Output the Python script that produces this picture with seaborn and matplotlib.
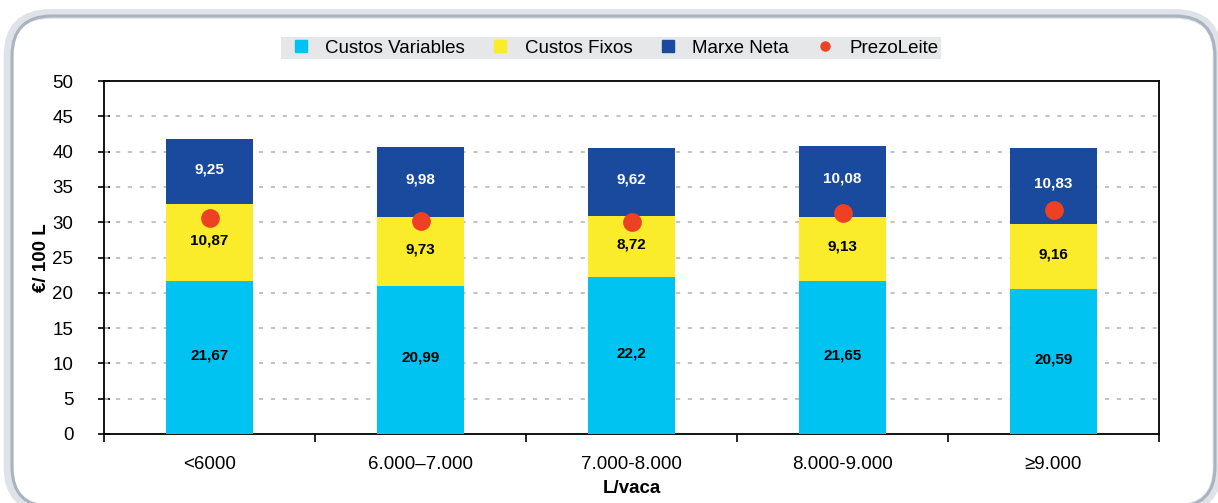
import numpy as np
import pandas as pd
import matplotlib
matplotlib.use("Agg")
import matplotlib.pyplot as plt
import seaborn as sns
from matplotlib.lines import Line2D
from matplotlib.patches import FancyBboxPatch

categories = ["<6000", "6.000\u20137.000", "7.000-8.000", "8.000-9.000", "\u22659.000"]
custos_variables = [21.67, 20.99, 22.2, 21.65, 20.59]
custos_fixos = [10.87, 9.73, 8.72, 9.13, 9.16]
marxe_neta = [9.25, 9.98, 9.62, 10.08, 10.83]
prezo_leite = [30.6, 30.2, 30.0, 31.3, 31.7]

series_names = ["Custos Variables", "Custos Fixos", "Marxe Neta", "PrezoLeite"]
col_var = "#00C3F2"
col_fix = "#FAEC2A"
col_mar = "#1A4A9D"
col_pre = "#EE4124"

sns.set_theme(style="white")
plt.rcParams["font.family"] = ["Liberation Sans", "DejaVu Sans"]
plt.rcParams["text.color"] = "black"
plt.rcParams["axes.labelcolor"] = "black"
plt.rcParams["xtick.color"] = "black"
plt.rcParams["ytick.color"] = "black"

df = pd.DataFrame({
    "cat": categories,
    "var": custos_variables,
    "fix": custos_fixos,
    "mar": marxe_neta,
    "pre": prezo_leite,
})
df["s2"] = df["var"] + df["fix"]
df["s3"] = df["s2"] + df["mar"]

fig = plt.figure(figsize=(12.18, 5.03), dpi=100)
fig.patch.set_facecolor("white")

# rounded frame
frame_sh = FancyBboxPatch((0.085, -0.06), 12.09, 4.95,
                          boxstyle="round,pad=0,rounding_size=0.42",
                          transform=fig.dpi_scale_trans, facecolor="none",
                          edgecolor="#dfe3e8", linewidth=7, zorder=-10)
frame = FancyBboxPatch((0.12, -0.04), 12.03, 4.91,
                       boxstyle="round,pad=0,rounding_size=0.40",
                       transform=fig.dpi_scale_trans, facecolor="none",
                       edgecolor="#a9b4c0", linewidth=2.2, zorder=-9)
fig.patches.extend([frame_sh, frame])

ax = fig.add_axes([104/1218, 1-434/503, (1159-104)/1218, (434-81)/503])
ax.set_facecolor("none")
ax.set_zorder(2)

bw = 0.41
sns.barplot(data=df, x="cat", y="s3", color=col_mar, width=bw, saturation=1,
            linewidth=0, ax=ax, zorder=3)
sns.barplot(data=df, x="cat", y="s2", color=col_fix, width=bw, saturation=1,
            linewidth=0, ax=ax, zorder=3)
sns.barplot(data=df, x="cat", y="var", color=col_var, width=bw, saturation=1,
            linewidth=0, ax=ax, zorder=3)
sns.stripplot(data=df, x="cat", y="pre", color=col_pre, jitter=False, size=13.5,
              linewidth=0, ax=ax, zorder=5)

# value labels
off = 0.3
for i in range(len(categories)):
    ax.text(i, custos_variables[i] / 2 + off, f"{custos_variables[i]:g}".replace(".", ","),
            ha="center", va="center", fontsize=11, fontweight="bold", color="black", zorder=6)
    ax.text(i, df["var"][i] + custos_fixos[i] / 2 + off, f"{custos_fixos[i]:g}".replace(".", ","),
            ha="center", va="center", fontsize=11, fontweight="bold", color="black", zorder=6)
    ax.text(i, df["s2"][i] + marxe_neta[i] / 2 + off, f"{marxe_neta[i]:g}".replace(".", ","),
            ha="center", va="center", fontsize=11, fontweight="bold", color="white", zorder=6)

ax.set_ylim(0, 50)
ax.set_xlim(-0.5, len(categories) - 0.5)
ax.set_yticks(np.arange(0, 51, 5))
ax.set_yticklabels([str(v) for v in range(0, 51, 5)], fontsize=13.5)
for v in range(5, 50, 5):
    ax.axhline(v, color="#bdbdbd", linewidth=1.3, linestyle=(0, (2.3, 4.3)), zorder=1)

ax.set_xticks(np.arange(-0.5, len(categories), 1.0))
ax.set_xticklabels([])
ax.set_xticks(np.arange(len(categories)), minor=True)
ax.set_xticklabels(categories, minor=True, fontsize=13.5)
ax.tick_params(axis="x", which="major", bottom=True, direction="out", length=6,
               width=1.2, color="black")
ax.tick_params(axis="x", which="minor", bottom=True, length=0, pad=16)
ax.tick_params(axis="y", left=True, direction="inout", length=8, width=1.2,
               color="black", pad=18)

for s in ax.spines.values():
    s.set_visible(True)
    s.set_color("black")
    s.set_linewidth(1.3)

ax.set_xlabel("L/vaca", fontsize=13.5, fontweight="bold", labelpad=5)
ax.set_ylabel("\u20ac/ 100 L", fontsize=13.5, fontweight="bold", labelpad=2)

handles = [
    Line2D([], [], marker="s", linestyle="none", markersize=8, color=col_var),
    Line2D([], [], marker="s", linestyle="none", markersize=8, color=col_fix),
    Line2D([], [], marker="s", linestyle="none", markersize=8, color=col_mar),
    Line2D([], [], marker="o", linestyle="none", markersize=6.5, color=col_pre),
]
leg = fig.legend(handles, series_names, loc="center", ncol=4,
                 bbox_to_anchor=(611/1218, 1-48/503), frameon=True,
                 facecolor="#e6e7e8", edgecolor="none", fancybox=False,
                 framealpha=1, fontsize=13.5, borderpad=0.15, borderaxespad=0,
                 handletextpad=0.4, columnspacing=1.0, handlelength=1.8)
leg.get_frame().set_linewidth(0)

fig.savefig("out.png", dpi=100)
